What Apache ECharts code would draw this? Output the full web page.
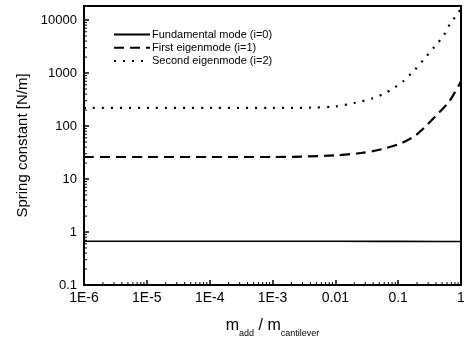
<!DOCTYPE html>
<html><head><meta charset="utf-8">
<script src="https://cdn.jsdelivr.net/npm/echarts@6/dist/echarts.min.js"></script>
<style>html,body{margin:0;padding:0;background:#fff}#c{width:464px;height:339px}</style>
</head><body><div id="c"></div>
<script>
const seriesNames = ['Fundamental mode (i=0)', 'First eigenmode (i=1)', 'Second eigenmode (i=2)'];
const xFund = [1e-6, 1e-5, 1e-4, 1e-3, 0.01, 0.05, 0.1, 0.5, 1];
const yFund = [0.67, 0.67, 0.67, 0.67, 0.67, 0.667, 0.665, 0.662, 0.66];
const xFirst = [1e-6, 1e-5, 1e-4, 1e-3, 0.003, 0.01, 0.026, 0.055, 0.114, 0.184, 0.265, 0.44, 0.64, 0.93, 1];
const yFirst = [26, 26, 26, 26, 26.5, 28, 31, 36.5, 48, 65, 95, 176, 284, 594, 700];
const xSecond = [1e-6, 1e-5, 1e-4, 1e-3, 0.004, 0.01, 0.02, 0.04, 0.06, 0.085, 0.12, 0.18, 0.265, 0.38, 0.53, 0.67, 0.85, 1];
const ySecond = [220, 220, 220, 220, 222, 235, 272, 335, 410, 520, 700, 1120, 1900, 3150, 5100, 8500, 12300, 16500];
const xTickLabels = ['1E-6', '1E-5', '1E-4', '1E-3', '0.01', '0.1', '1'];
const yTickLabels = ['0.1', '1', '10', '100', '1000', '10000'];
const xMin = 1e-6, xMax = 1, yMin = 0.1, yMax = 18400;

const minorMult = [2, 3, 4, 5, 6, 7, 8, 9];
function minorTicks(lo, hi, maxV) {
  const out = [];
  for (let e = lo; e < hi; e++) for (const m of minorMult) {
    const v = m * Math.pow(10, e);
    if (v < maxV) out.push(v);
  }
  return out;
}
const xMinor = minorTicks(-6, 0, xMax);
const yMinor = minorTicks(-1, 5, yMax);

const FONT = '"Liberation Sans", Arial, Helvetica, sans-serif';
const chart = echarts.init(document.getElementById('c'));
const pairs = (xs, ys) => xs.map((x, i) => [x, ys[i]]);

chart.setOption({
  animation: false,
  backgroundColor: '#fff',
  grid: { left: 84, right: 3, top: 6, bottom: 54, outerBoundsMode: 'none', containLabel: false,
    show: true, borderColor: '#000', borderWidth: 2, backgroundColor: 'transparent' },
  legend: {
    data: seriesNames, orient: 'vertical', left: 108, top: 24, itemWidth: 36, itemHeight: 14, itemGap: 2,
    itemStyle: { color: 'transparent', borderWidth: 0, opacity: 0 },
    textStyle: { fontSize: 11, color: '#000', fontFamily: FONT, padding: [0, 0, 0, -3] },
    inactiveColor: '#000'
  },
  xAxis: {
    type: 'log', min: xMin, max: xMax, logBase: 10, splitNumber: 6,
    axisLine: { show: true, lineStyle: { color: '#000', width: 2 } },
    axisTick: { show: true, inside: true, length: 5, lineStyle: { color: '#000', width: 1.5 } },
    splitLine: { show: false },
    axisLabel: {
      color: '#000', fontSize: 14, fontFamily: FONT, margin: 6,
      formatter: v => { const e = Math.log10(v); const r = Math.round(e); return Math.abs(e - r) < 1e-6 ? (xTickLabels[r + 6] || '') : ''; }
    },
    name: '{m|m}{s|add}{m| / m}{s|cantilever}',
    nameLocation: 'middle', nameGap: 33,
    nameTextStyle: {
      rich: {
        m: { fontSize: 16, fontFamily: FONT, color: '#000', lineHeight: 20, verticalAlign: 'top' },
        s: { fontSize: 9, fontFamily: FONT, color: '#000', lineHeight: 10, verticalAlign: 'bottom' }
      }
    }
  },
  yAxis: {
    type: 'log', min: yMin, max: yMax, logBase: 10, splitNumber: 5,
    axisLine: { show: true, lineStyle: { color: '#000', width: 2 } },
    axisTick: { show: true, inside: true, length: 5, lineStyle: { color: '#000', width: 1.5 } },
    splitLine: { show: false },
    axisLabel: {
      color: '#000', fontSize: 13, fontFamily: FONT, margin: 7, showMaxLabel: false,
      formatter: v => { const e = Math.log10(v); const r = Math.round(e); return Math.abs(e - r) < 1e-6 ? (yTickLabels[r + 1] || '') : ''; }
    },
    name: 'Spring constant [N/m]', nameLocation: 'middle', nameGap: 49,
    nameTextStyle: { fontSize: 15, fontFamily: FONT, color: '#000' }
  },
  series: [
    { name: seriesNames[0], type: 'line', data: pairs(xFund, yFund), symbol: 'none', color: '#000',
      lineStyle: { color: '#000', width: 1.6, type: 'solid' } },
    { name: seriesNames[1], type: 'line', data: pairs(xFirst, yFirst), symbol: 'none', color: '#000', smooth: 0.3,
      lineStyle: { color: '#000', width: 2.2, type: [10, 6] } },
    { name: seriesNames[2], type: 'line', data: pairs(xSecond, ySecond), symbol: 'none', color: '#000', smooth: 0.3,
      lineStyle: { color: '#000', width: 2.2, type: [2, 7] } },
    { type: 'custom', silent: true, clip: false, data: xMinor.map(v => [v, yMin]),
      renderItem: (params, api) => {
        const p = api.coord([api.value(0), api.value(1)]);
        return { type: 'line', shape: { x1: p[0], y1: p[1], x2: p[0], y2: p[1] - 3 }, style: { stroke: '#000', lineWidth: 1 } };
      } },
    { type: 'custom', silent: true, clip: false, data: yMinor.map(v => [xMin, v]),
      renderItem: (params, api) => {
        const p = api.coord([api.value(0), api.value(1)]);
        return { type: 'line', shape: { x1: p[0], y1: p[1], x2: p[0] + 3, y2: p[1] }, style: { stroke: '#000', lineWidth: 1 } };
      } }
  ]
});
</script>
</body></html>
